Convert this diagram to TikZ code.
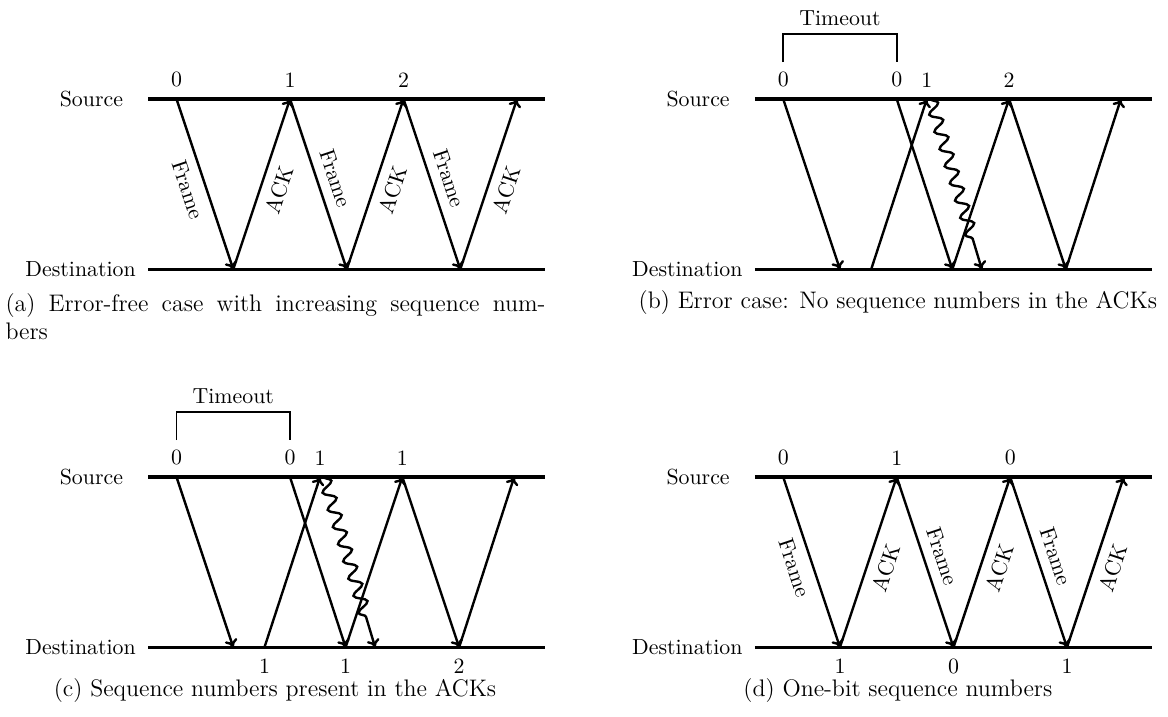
\documentclass[tikz,border=0pt,11pt]{standalone}
\usepackage{tikz}
\usetikzlibrary{arrows.meta,decorations.pathmorphing,positioning}
\tikzset{
  tline/.style ={line width=1.6pt},
  msg/.style   ={-{To[length=4pt,width=6.5pt]}, very thick},
  lost/.style  ={-{To[length=4pt,width=6.5pt]}, very thick, decorate,
                 decoration={snake, amplitude=3pt, segment length=9pt,
                             post length=5mm}},
  tmo/.style   ={thick},
  capt/.style  ={font=\large, inner sep=0pt}
}
\begin{document}
\begin{tikzpicture}
\useasboundingbox (0,0) rectangle (20.58,-12.63);

% time lines of the four cases
\foreach \p/\x/\y in {a/2.61/-1.745,b/13.30/-1.745,c/2.61/-8.405,d/13.30/-8.405}{
  \coordinate (\p0) at (\x,\y);
  \coordinate (\p1) at (\x+7,\y);
  \coordinate (\p2) at (\x,\y-3);
  \coordinate (\p3) at (\x+7,\y-3);
  \draw[tline] (\p0) -- (\p1);
  \draw[tline] (\p2) -- (\p3);
  \node (\p-src) at (\x-1,\y) {Source};
  \node (\p-dst) at (\x-1.19,\y-3) {Destination};
}

% (a) and (d): no errors
\foreach \p in {a,d}{
  \begin{scope}[shift={(\p0)}]
    \foreach \i/\side in {0/below,1/above,2/above}{
      \coordinate (\p T\i) at ({0.5+2*\i},0);
      \coordinate (\p B\i) at ({1.5+2*\i},-3);
      \coordinate (\p A\i) at ({2.5+2*\i},0);
      \draw[msg] (\p T\i) -- node[sloped,\side=1pt] (\p F\i) {Frame} (\p B\i);
      \draw[msg] (\p B\i) -- node[sloped,below=1pt] (\p K\i) {ACK} (\p A\i);
    }
  \end{scope}
}
\foreach \i/\n in {0/0,1/1,2/2}{\node[above=2pt of aT\i] (aN\i) {\n};}
\foreach \i/\t/\b in {0/0/1,1/1/0,2/0/1}{
  \node[above=2pt of dT\i] (dN\i) {\t};
  \node[below=2pt of dB\i] (dM\i) {\b};
}

% (b) and (c): timeout, retransmission and a damaged frame
\foreach \p in {b,c}{
  \begin{scope}[shift={(\p0)}]
    \coordinate (\p T0) at (0.5,0);
    \coordinate (\p B0) at (1.5,-3);
    \coordinate (\p B1) at (2.05,-3);
    \coordinate (\p T1) at (2.5,0);
    \coordinate (\p T2) at (3.03,0);
    \coordinate (\p W)  at (3.1,0);
    \coordinate (\p B2) at (3.48,-3);
    \coordinate (\p X)  at (4,-3);
    \coordinate (\p T3) at (4.48,0);
    \coordinate (\p B3) at (5.48,-3);
    \coordinate (\p T4) at (6.45,0);
    \draw[msg] (\p T0) -- (\p B0);
    \draw[msg] (\p B1) -- (\p T2);
    \draw[msg] (\p T1) -- (\p B2);
    \draw[lost] (\p W) -- (\p X);
    \draw[msg] (\p B2) -- (\p T3);
    \draw[msg] (\p T3) -- (\p B3);
    \draw[msg] (\p B3) -- (\p T4);
    % timeout bracket
    \draw[tmo] (0.5,0.65) -- (0.5,1.15) -- (2.5,1.15) -- (2.5,0.65);
    \node[above] (\p-tmo) at (1.5,1.15) {Timeout};
  \end{scope}
}
\foreach \i/\n in {T0/0,T1/0,T2/1,T3/2}{\node[above=2pt of b\i] (bN\i) {\n};}
\foreach \i/\n in {T0/0,T1/0,T2/1,T3/1}{\node[above=2pt of c\i] (cN\i) {\n};}
\foreach \i/\n in {B1/1,B2/1,B3/2}{\node[below=2pt of c\i] (cM\i) {\n};}

% captions
\node[capt, anchor=north west, text width=9.515cm, align=justify] (capA) at (0.09,-5.17)
  {(a) Error-free case with increasing sequence num-\linebreak bers};
\node[capt, anchor=base] (capB) at (15.82,-5.43)
  {(b) Error case: No sequence numbers in the ACKs};
\node[capt, anchor=base] (capC) at (4.846,-12.28)
  {(c) Sequence numbers present in the ACKs};
\node[capt, anchor=base] (capD) at (15.82,-12.28)
  {(d) One-bit sequence numbers};
\end{tikzpicture}
\end{document}
